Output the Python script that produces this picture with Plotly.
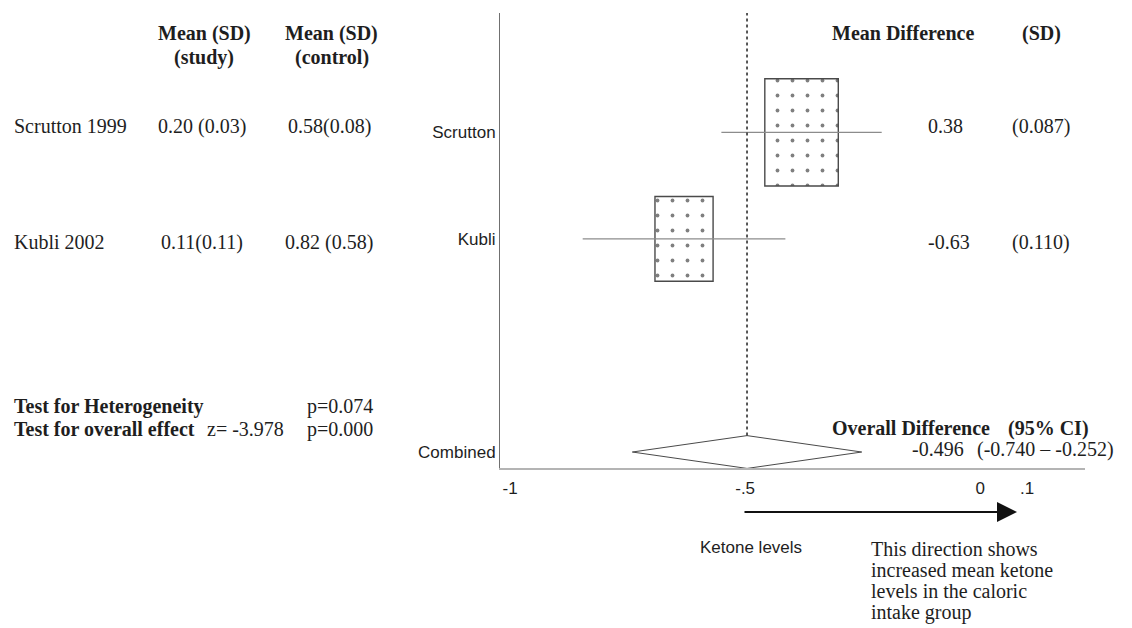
import plotly.graph_objects as go

W, H = 1132, 628

# ---- data -------------------------------------------------------------
studies = ["Scrutton", "Kubli"]
study_labels = ["Scrutton 1999", "Kubli 2002"]
study_group = ["0.20 (0.03)", "0.11(0.11)"]
control_group = ["0.58(0.08)", "0.82 (0.58)"]
mean_diff = [-0.38, -0.63]
mean_diff_text = ["0.38", "-0.63"]
sd = [0.087, 0.110]
overall_est = -0.496
overall_lo = -0.740
overall_hi = -0.252
heterogeneity_p = "p=0.074"
overall_z = "z= -3.978"
overall_p = "p=0.000"
x_ticks = [-1, -0.5, 0, 0.1]
x_tick_text = ["-1", "-.5", "0", ".1"]

# ---- layout helpers ---------------------------------------------------
rows = [4, 3]
combined_row = 1
SERIF = "Liberation Serif, Times New Roman, serif"
SANS = "Liberation Sans, Arial, sans-serif"
INK = "#1e1e1e"

# box area proportional to inverse-variance weight
box_w = [0.0136 / s for s in sd]
box_h = [0.0875 / s for s in sd]
diamond_h = 0.154

fig = go.Figure()

fig.add_trace(go.Bar(
    y=rows,
    x=box_w,
    base=[m - w / 2 for m, w in zip(mean_diff, box_w)],
    width=box_h,
    orientation="h",
    marker=dict(
        color="white",
        line=dict(color="#4a4a4a", width=1.4),
        pattern=dict(shape=".", fgcolor="#000000", bgcolor="white",
                     size=15, solidity=0.05),
    ),
    hoverinfo="skip",
))

# 95% confidence intervals of each study
ci_x, ci_y = [], []
for m, s, r in zip(mean_diff, sd, rows):
    ci_x += [m - 1.96 * s, m + 1.96 * s, None]
    ci_y += [r, r, None]
fig.add_trace(go.Scatter(
    x=ci_x, y=ci_y, mode="lines",
    line=dict(color="#8c8c8c", width=1.2), hoverinfo="skip",
))

# pooled estimate diamond
fig.add_trace(go.Scatter(
    x=[overall_lo, overall_est, overall_hi, overall_est, overall_lo],
    y=[combined_row, combined_row + diamond_h, combined_row,
       combined_row - diamond_h, combined_row],
    mode="lines", fill="toself", fillcolor="white",
    line=dict(color="#4a4a4a", width=1), hoverinfo="skip",
))

# dotted reference line at the pooled estimate
fig.add_trace(go.Scatter(
    x=[overall_est, overall_est],
    y=[combined_row + diamond_h, 5.15],
    mode="lines", cliponaxis=False,
    line=dict(color="#222222", width=1.5, dash="dot"), hoverinfo="skip",
))

annotations = []


def note(text, x, y, size=20, anchor="left", family=SERIF):
    annotations.append(dict(
        text=text, x=x / W, y=1 - y / H, xref="paper", yref="paper",
        xanchor=anchor, yanchor="middle", showarrow=False,
        font=dict(family=family, size=size, color=INK),
    ))


# left table
note("<b>Mean (SD)</b>", 204, 34, anchor="center")
note("<b>(study)</b>", 204, 57, anchor="center")
note("<b>Mean (SD)</b>", 332, 34, anchor="center")
note("<b>(control)</b>", 332, 57, anchor="center")
for lab, sg, cg, yy in zip(study_labels, study_group, control_group, [126, 242]):
    note(lab, 12, yy)
    note(sg, 202, yy, anchor="center")
    note(cg, 329, yy, anchor="center")

note("<b>Test for Heterogeneity</b>", 12, 406)
note(heterogeneity_p, 305, 406)
note("<b>Test for overall effect</b>", 12, 429)
note(overall_z, 205, 429)
note(overall_p, 305, 429)

# right table
note("<b>Mean Difference</b>", 830, 33)
note("<b>(SD)</b>", 1041, 33, anchor="center")
for txt, s, yy in zip(mean_diff_text, sd, [126, 242]):
    note(txt, 926, yy)
    note(f"({s:.3f})", 1041, yy, anchor="center")

note("<b>Overall Difference</b>", 830, 428)
note("<b>(95% CI)</b>", 1006, 428)
note(f"{overall_est:.3f}", 966, 449, anchor="right")
note(f"({overall_lo:.3f} \u2013 {overall_hi:.3f})", 975, 449)

# direction arrow and captions
annotations.append(dict(
    x=1017 / W, y=1 - 512 / H, xref="paper", yref="paper",
    ax=-274, ay=0, axref="pixel", ayref="pixel", text="",
    showarrow=True, arrowhead=2, arrowwidth=2, arrowsize=2.0,
    arrowcolor="#111111",
))
note("Ketone levels", 698, 547, size=17, family=SANS)
for i, line in enumerate(["This direction shows", "increased mean ketone",
                          "levels in the caloric", "intake group"]):
    note(line, 869, 549 + 21 * i)

fig.update_layout(
    width=W, height=H,
    margin=dict(l=0, r=0, t=0, b=0),
    paper_bgcolor="white", plot_bgcolor="white",
    showlegend=False,
    annotations=annotations,
    xaxis=dict(
        domain=[500 / W, 1085 / W], range=[-1.0215, 0.223],
        showgrid=False, zeroline=False,
        showline=True, linecolor="#b4b4b4", linewidth=2,
        tickvals=x_ticks, ticktext=x_tick_text,
        ticks="outside", ticklen=4, tickcolor="rgba(0,0,0,0)",
        tickfont=dict(family=SANS, size=17, color=INK),
        fixedrange=True,
    ),
    yaxis=dict(
        domain=[1 - 468 / H, 1 - 13 / H], range=[0.85, 5.12],
        showgrid=False, zeroline=False,
        showline=True, linecolor="#707070", linewidth=1,
        tickvals=rows + [combined_row], ticktext=studies + ["Combined"],
        ticks="", tickfont=dict(family=SANS, size=17, color=INK),
        fixedrange=True,
    ),
)

fig.write_html("out.html")
